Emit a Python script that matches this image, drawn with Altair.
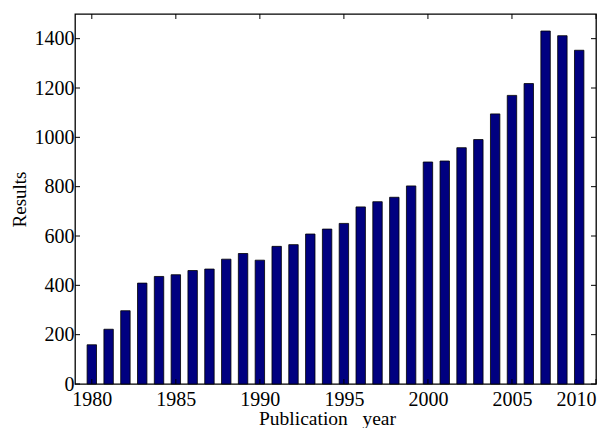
import altair as alt
import pandas as pd

years = list(range(1980, 2010))
results = [159, 222, 297, 409, 436, 443, 460, 466, 506, 529,
           502, 558, 565, 608, 628, 651, 718, 739, 757, 803,
           900, 904, 958, 991, 1095, 1170, 1218, 1431, 1412, 1353]
x_ticks = [1980, 1985, 1990, 1995, 2000, 2005, 2010]
y_ticks = [0, 200, 400, 600, 800, 1000, 1200, 1400]

W, H = 521, 370
FONT = "Liberation Serif"

df = pd.DataFrame({"year": years, "results": results})
xt = pd.DataFrame({"tx": x_ticks})
yt = pd.DataFrame({"ty": y_ticks})

xscale = alt.Scale(domain=[1979, 2010], nice=False, zero=False)
yscale = alt.Scale(domain=[0, 1500], nice=False)

bars = alt.Chart(df).transform_calculate(
    x0="datum.year - 0.28", x1="datum.year + 0.28", zero="0"
).mark_bar(fill="#000080", stroke="black", strokeWidth=0.8).encode(
    x=alt.X("x0:Q", scale=xscale, title="Publication\u00a0\u00a0\u00a0year",
            axis=alt.Axis(values=x_ticks, format="d", ticks=False, domain=False, grid=False,
                          labelFont=FONT, labelFontSize=20, labelColor="black", labelPadding=5,
                          titleFont=FONT, titleFontSize=19.5, titleFontWeight="normal", titleColor="black",
                          titleX=252, titleY=40, titleBaseline="alphabetic", titleAnchor="start", titleAlign="center")),
    x2="x1:Q",
    y=alt.Y("results:Q", scale=yscale, title="Results",
            axis=alt.Axis(values=y_ticks, format="d", ticks=False, domain=False, grid=False,
                          labelFont=FONT, labelFontSize=20, labelColor="black", labelPadding=1,
                          titleFont=FONT, titleFontSize=19, titleFontWeight="normal", titleColor="black",
                          titleX=-50, titleY=185, titleAngle=270, titleBaseline="alphabetic",
                          titleAlign="center", titleAnchor="start")),
    y2="zero:Q",
)

top_ticks = alt.Chart(xt).mark_rule(color="black", strokeWidth=1).encode(
    x=alt.X("tx:Q", scale=xscale), y=alt.value(0), y2=alt.value(5))
bottom_ticks = alt.Chart(xt).mark_rule(color="black", strokeWidth=1).encode(
    x=alt.X("tx:Q", scale=xscale), y=alt.value(H), y2=alt.value(H - 5))
left_ticks = alt.Chart(yt).mark_rule(color="black", strokeWidth=1).encode(
    y=alt.Y("ty:Q", scale=yscale), x=alt.value(0), x2=alt.value(5))
right_ticks = alt.Chart(yt).mark_rule(color="black", strokeWidth=1).encode(
    y=alt.Y("ty:Q", scale=yscale), x=alt.value(W), x2=alt.value(W - 5))

chart = alt.layer(bars, top_ticks, bottom_ticks, left_ticks, right_ticks).properties(
    width=W, height=H,
    background="white",
    autosize=alt.AutoSizeParams(type="none"),
    padding={"left": 67, "top": 6, "right": 10, "bottom": 44},
).configure_view(stroke="black", strokeWidth=1.3)

chart.save("out.html", embed_options={"renderer": "svg", "actions": False})
